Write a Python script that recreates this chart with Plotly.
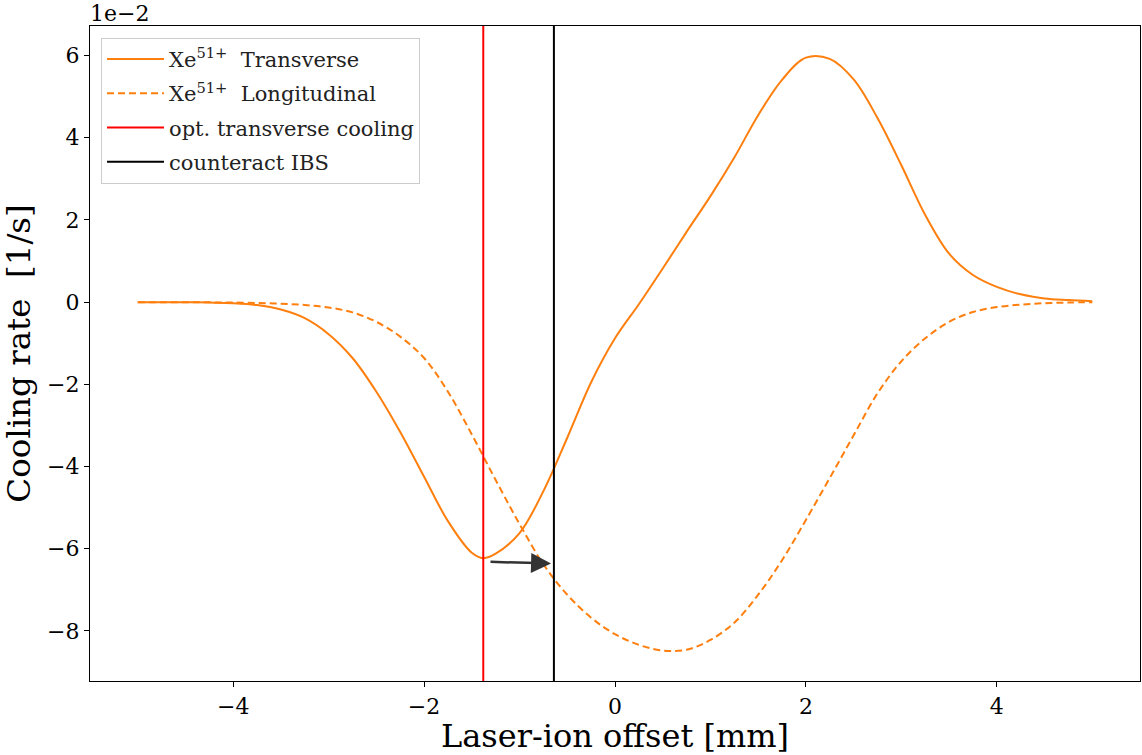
import plotly.graph_objects as go

# Laser-ion offset grid [mm]
offset = [-5.0, -4.75, -4.5, -4.25, -4.0, -3.75, -3.5, -3.25, -3.0, -2.75, -2.5, -2.25,
          -2.0, -1.75, -1.5, -1.25, -1.0, -0.75, -0.5, -0.25, 0.0, 0.25, 0.5, 0.75,
          1.0, 1.25, 1.5, 1.75, 2.0, 2.25, 2.5, 2.75, 3.0, 3.25, 3.5, 3.75, 4.0,
          4.25, 4.5, 4.75, 5.0]

# Transverse offsets: same grid plus the point of optimum cooling
offset_t = [-5.0, -4.75, -4.5, -4.25, -4.0, -3.75, -3.5, -3.25, -3.0, -2.75, -2.5, -2.25,
            -2.0, -1.75, -1.5, -1.38, -1.25, -1.0, -0.75, -0.5, -0.25, 0.0, 0.25, 0.5,
            0.75, 1.0, 1.25, 1.5, 1.75, 2.0, 2.25, 2.5, 2.75, 3.0, 3.25, 3.5, 3.75,
            4.0, 4.25, 4.5, 4.75, 5.0]

# Transverse cooling rate of Xe51+ [1e-2 1/s]
rate_transverse = [0.0, 0.0, -0.003, -0.01, -0.025, -0.07, -0.18, -0.39, -0.78, -1.36,
                   -2.18, -3.16, -4.25, -5.33, -6.10, -6.23, -6.12, -5.62, -4.60, -3.30,
                   -1.95, -0.88, -0.05, 0.82, 1.71, 2.58, 3.52, 4.55, 5.41, 5.95, 5.92,
                   5.42, 4.48, 3.33, 2.12, 1.18, 0.66, 0.37, 0.19, 0.09, 0.05, 0.02]

# Longitudinal cooling rate of Xe51+ [1e-2 1/s]
rate_longitudinal = [0.0, 0.0, -0.002, -0.005, -0.01, -0.02, -0.04, -0.07, -0.13, -0.25,
                     -0.48, -0.84, -1.36, -2.18, -3.22, -4.33, -5.40, -6.38, -7.12, -7.68,
                     -8.08, -8.34, -8.48, -8.46, -8.22, -7.80, -7.12, -6.28, -5.30, -4.28,
                     -3.24, -2.22, -1.44, -0.88, -0.48, -0.24, -0.12, -0.06, -0.025, -0.01,
                     0.0]

# Marked offsets [mm]
opt_transverse_x = -1.38
counteract_ibs_x = -0.64
# Arrow from the optimum to the IBS-compensating offset
arrow_start = (-1.32, -6.32)
arrow_end = (-0.67, -6.36)

x_range = [-5.5, 5.5]
y_range = [-9.22, 6.72]

ORANGE = "#ff7f0e"
FONT = "DejaVu Serif"

fig = go.Figure()

fig.add_trace(go.Scatter(
    x=offset_t, y=rate_transverse, mode="lines",
    line=dict(color=ORANGE, width=2, shape="spline", smoothing=1.0),
    name="Xe<sup>51+</sup>\u00a0 Transverse", legendgroup="t",
))
fig.add_trace(go.Scatter(
    x=offset, y=rate_longitudinal, mode="lines",
    line=dict(color=ORANGE, width=2, dash="7px,4px", shape="spline", smoothing=1.0),
    name="Xe<sup>51+</sup>\u00a0 Longitudinal", legendgroup="l",
))
fig.add_trace(go.Scatter(
    x=[opt_transverse_x, opt_transverse_x], y=y_range, mode="lines",
    line=dict(color="red", width=2),
    name="opt. transverse cooling", legendgroup="o",
))
fig.add_trace(go.Scatter(
    x=[counteract_ibs_x, counteract_ibs_x], y=y_range, mode="lines",
    line=dict(color="black", width=2),
    name="counteract IBS", legendgroup="c",
))

fig.add_annotation(
    x=arrow_end[0], y=arrow_end[1], ax=arrow_start[0], ay=arrow_start[1],
    xref="x", yref="y", axref="x", ayref="y",
    showarrow=True, arrowhead=2, arrowsize=1.6, arrowwidth=2.5,
    arrowcolor="#333333", text="",
)

# Scale factor shown above the y axis
fig.add_annotation(
    x=0, y=1, xref="paper", yref="paper", xanchor="left", yanchor="bottom",
    text="1e\u22122", showarrow=False, xshift=-2, yshift=-2,
    font=dict(family=FONT, size=22, color="black"),
)

axis_common = dict(
    showgrid=False, zeroline=False, showline=True, mirror=True,
    linecolor="black", linewidth=1.2, ticks="outside", ticklen=5,
    tickwidth=1.2, tickcolor="black",
    tickfont=dict(family=FONT, size=22, color="black"),
)

fig.update_layout(
    width=1142, height=755,
    margin=dict(l=90, r=2, t=26, b=74),
    paper_bgcolor="white", plot_bgcolor="white",
    font=dict(family=FONT, color="black"),
    xaxis=dict(
        range=x_range, tickvals=[-4, -2, 0, 2, 4],
        title=dict(text="Laser-ion offset [mm]", font=dict(family=FONT, size=32), standoff=6),
        **axis_common,
    ),
    yaxis=dict(
        range=y_range, tickvals=[-8, -6, -4, -2, 0, 2, 4, 6],
        title=dict(text="Cooling rate\u00a0\u00a0[1/s]", font=dict(family=FONT, size=32.5), standoff=12),
        **axis_common,
    ),
    legend=dict(
        x=0.0105, y=0.982, xanchor="left", yanchor="top",
        bgcolor="rgba(255,255,255,0.8)", bordercolor="#cccccc", borderwidth=1,
        font=dict(family=FONT, size=21, color="#222222"),
        tracegroupgap=4, itemwidth=57,
    ),
    showlegend=True,
)

fig.write_html("out.html")
